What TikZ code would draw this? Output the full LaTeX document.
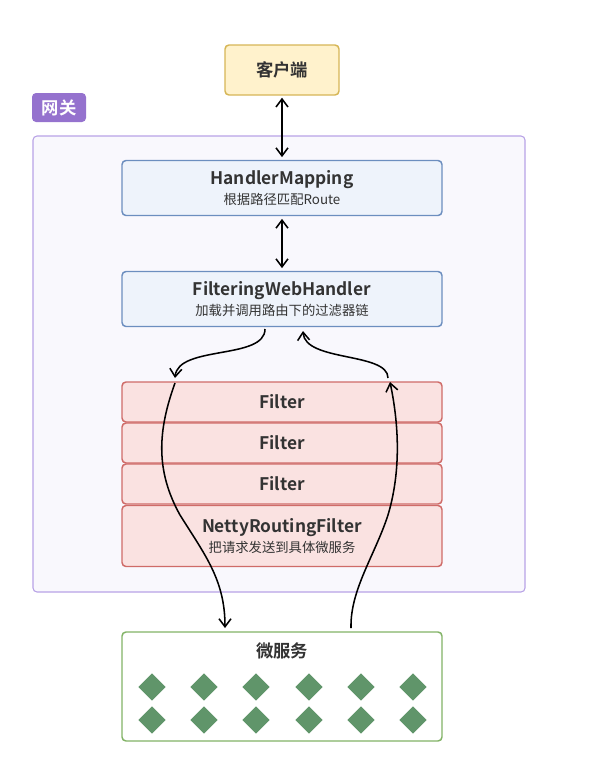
\documentclass[tikz,border=0pt]{standalone}
\usepackage{fontspec}
\setmainfont{Noto Sans CJK SC}[BoldFont={Noto Sans CJK SC Bold}]
\usetikzlibrary{arrows.meta,shapes.geometric}
\definecolor{txt}{HTML}{333333}
\definecolor{yfill}{HTML}{FFF2CC}
\definecolor{ydraw}{HTML}{D6B656}
\definecolor{pfill}{HTML}{F9F8FD}
\definecolor{pdraw}{HTML}{B8A2E6}
\definecolor{plabel}{HTML}{9572CE}
\definecolor{bfill}{HTML}{EEF3FB}
\definecolor{bdraw}{HTML}{6C8EBF}
\definecolor{rfill}{HTML}{FAE2E1}
\definecolor{rdraw}{HTML}{CF6B68}
\definecolor{gdraw}{HTML}{82B366}
\definecolor{gfill}{HTML}{60956A}
\tikzset{
  box/.style={rounded corners=3pt, line width=1.1pt, inner sep=0pt, align=center, text=txt},
  bluebox/.style={box, draw=bdraw, fill=bfill, minimum width=240pt, minimum height=41.25pt},
  redbox/.style={box, draw=rdraw, fill=rfill, minimum width=240pt, minimum height=30pt},
  title/.style={font=\bfseries\fontsize{13}{15}\selectfont},
  tip/.tip={Straight Barb[length=6pt,width=9pt]},
  arr/.style={line width=1.15pt, black, -tip},
  dia/.style={diamond, fill=gfill, inner sep=0pt, minimum width=20.5pt, minimum height=20.5pt},
}
\newcommand{\ttl}[1]{{\bfseries\fontsize{13}{15}\selectfont #1}}
\newcommand{\subt}[1]{{\fontsize{10}{12}\selectfont #1}}
\begin{document}
\begin{tikzpicture}[x=0.75pt,y=-0.75pt]
\useasboundingbox (0,0) rectangle (597,775);
% gateway container
\node[box, draw=pdraw, fill=pfill, line width=0.8pt, minimum width=369pt, minimum height=342pt] (gw) at (279,364) {};
\node[box, fill=plabel, text=white, minimum width=40.5pt, minimum height=21.75pt, font=\bfseries\fontsize{13}{15}\selectfont] (gwlabel) at (59,107.5) {网关};
% client
\node[box, draw=ydraw, fill=yfill, minimum width=85.5pt, minimum height=37.5pt, title] (client) at (282,70) {客户端};
% handlers
\node[bluebox] (hm) at (282,188) {\ttl{HandlerMapping}\\[2.5pt]\subt{根据路径匹配Route}};
\node[bluebox] (fwh) at (282,299) {\ttl{FilteringWebHandler}\\[2.5pt]\subt{加载并调用路由下的过滤器链}};
% filters
\node[redbox, title] (f1) at (282,402) {Filter};
\node[redbox, title] (f2) at (282,443) {Filter};
\node[redbox, title] (f3) at (282,484) {Filter};
\node[redbox, minimum height=45.75pt] (nrf) at (282,536) {\ttl{NettyRoutingFilter}\\[2.5pt]\subt{把请求发送到具体微服务}};
% microservices
\node[box, draw=gdraw, fill=white, minimum width=240pt, minimum height=81.75pt] (ms) at (282,686.5) {};
\node[title, text=txt] (mstitle) at (282,651) {微服务};
\foreach \x [count=\i] in {152,204,256,309,361,413}{
  \node[dia] (da\i) at (\x,687) {};
  \node[dia] (db\i) at (\x,720) {};
}
% straight connectors
\draw[arr, tip-tip, shorten <=1.5pt, shorten >=2pt] (client.south) -- (hm.north);
\draw[arr, tip-tip, shorten <=2pt, shorten >=2pt] (hm.south) -- (fwh.north);
% curved flow
\coordinate (c1) at (265,329);
\coordinate (c2) at (175,378);
\coordinate (c3) at (175,383);
\coordinate (c4) at (225,628);
\coordinate (c5) at (351,628);
\coordinate (c6) at (390,382);
\coordinate (c7) at (388,378);
\coordinate (c8) at (303,331);
\draw[arr] (c1) .. controls (265,360) and (178,345) .. (c2);
\draw[arr] (c3) .. controls (158,430) and (155,470) .. (180,515) .. controls (205,555) and (225,580) .. (c4);
\draw[arr] (c5) .. controls (350,590) and (375,555) .. (388,515) .. controls (400,475) and (400,430) .. (c6);
\draw[arr] (c7) .. controls (388,352) and (305,362) .. (c8);
\end{tikzpicture}
\end{document}
